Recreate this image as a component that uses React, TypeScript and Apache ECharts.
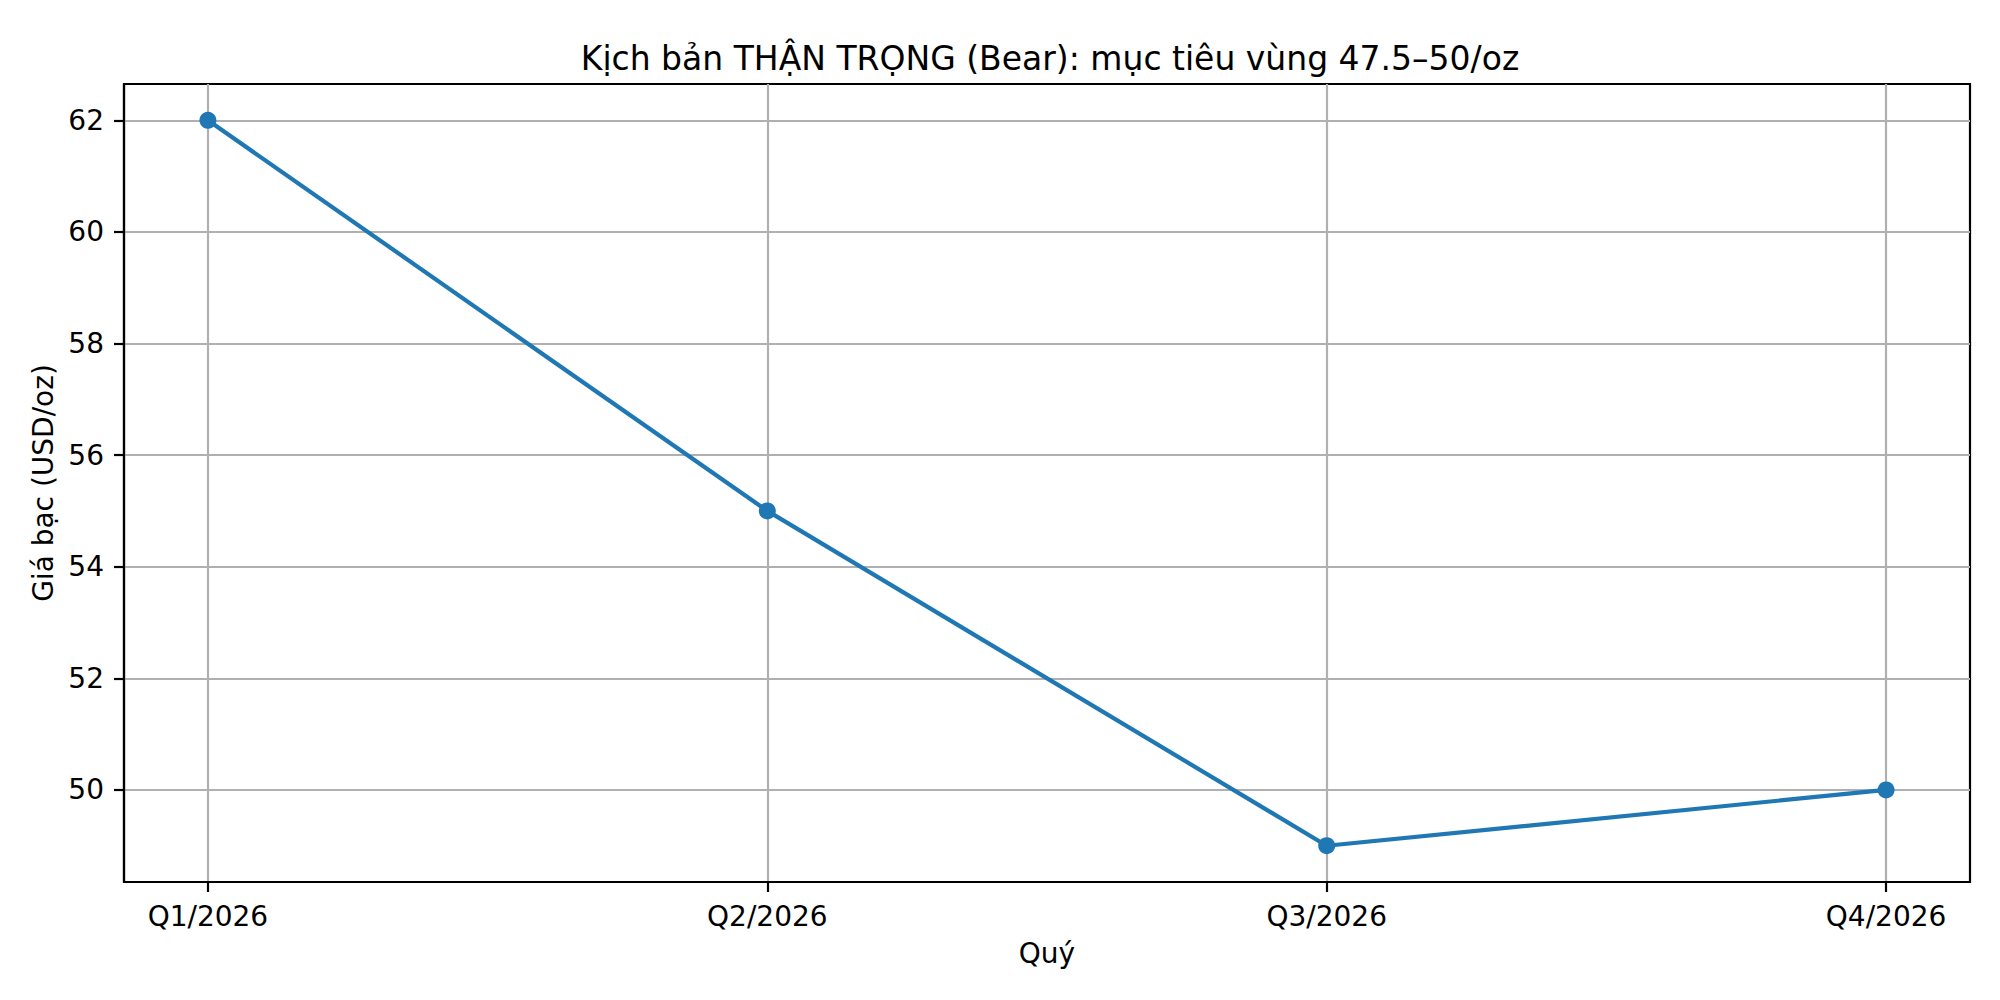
import React, { useEffect, useRef } from 'react';
import * as echarts from 'echarts';

const quarters = ['Q1/2026', 'Q2/2026', 'Q3/2026', 'Q4/2026'];
const prices = [62, 55, 49, 50];
const yTicks = [50, 52, 54, 56, 58, 60, 62];

const FONT = 'DejaVu Sans';

const App: React.FC = () => {
  const chartRef = useRef<HTMLDivElement>(null);

  useEffect(() => {
    if (!chartRef.current) return;
    const chart = echarts.init(chartRef.current, null, { renderer: 'svg' });

    const xIdx = quarters.map((_, i) => i);
    // matplotlib-like 5% margins
    const yMin = Math.min(...prices);
    const yMax = Math.max(...prices);
    const yPad = (yMax - yMin) * 0.05;
    const xPad = (quarters.length - 1) * 0.05;

    const option = {
      animation: false,
      backgroundColor: '#ffffff',
      title: {
        text: 'Kịch bản THẬN TRỌNG (Bear): mục tiêu vùng 47.5–50/oz',
        left: 1045,
        textAlign: 'center',
        top: 37,
        textStyle: {
          fontFamily: FONT,
          fontSize: 33,
          fontWeight: 'normal',
          color: '#000000'
        }
      },
      grid: {
        left: 124,
        right: 30,
        top: 84,
        bottom: 118,
        show: true,
        borderColor: '#000000',
        borderWidth: 2.2,
        containLabel: false
      },
      xAxis: {
        type: 'value',
        min: -xPad,
        max: quarters.length - 1 + xPad,
        name: 'Quý',
        nameLocation: 'middle',
        nameGap: 57,
        nameTextStyle: { fontFamily: FONT, fontSize: 28, color: '#000000' },
        axisLine: { show: true, onZero: false, lineStyle: { color: '#000000', width: 2.2 } },
        axisTick: {
          show: true,
          inside: false,
          length: 10,
          customValues: xIdx,
          lineStyle: { color: '#000000', width: 2.2 }
        },
        axisLabel: {
          customValues: xIdx,
          margin: 20,
          fontFamily: FONT,
          fontSize: 28,
          color: '#000000',
          formatter: (v: number) => quarters[Math.round(v)] ?? ''
        },
        splitLine: { show: true, lineStyle: { color: '#b0b0b0', width: 2.2 } }
      },
      yAxis: {
        type: 'value',
        min: yMin - yPad,
        max: yMax + yPad,
        name: 'Giá bạc (USD/oz)',
        nameLocation: 'middle',
        nameGap: 66,
        nameTextStyle: { fontFamily: FONT, fontSize: 28, color: '#000000' },
        axisLine: { show: true, onZero: false, lineStyle: { color: '#000000', width: 2.2 } },
        axisTick: {
          show: true,
          inside: false,
          length: 10,
          customValues: yTicks,
          lineStyle: { color: '#000000', width: 2.2 }
        },
        axisLabel: {
          customValues: yTicks,
          margin: 20,
          fontFamily: FONT,
          fontSize: 28,
          color: '#000000'
        },
        splitLine: { show: true, lineStyle: { color: '#b0b0b0', width: 2.2 } }
      },
      series: [
        {
          type: 'line',
          data: prices.map((p, i) => [i, p]),
          symbol: 'circle',
          symbolSize: 17,
          lineStyle: { color: '#1f77b4', width: 4.2 },
          itemStyle: { color: '#1f77b4' }
        }
      ]
    };

    chart.setOption(option);

    const handleResize = () => chart.resize();
    window.addEventListener('resize', handleResize);
    return () => {
      window.removeEventListener('resize', handleResize);
      chart.dispose();
    };
  }, []);

  return (
    <div
      ref={chartRef}
      style={{ position: 'absolute', left: 0, top: 0, width: '2000px', height: '1000px' }}
    />
  );
};

export default App;
